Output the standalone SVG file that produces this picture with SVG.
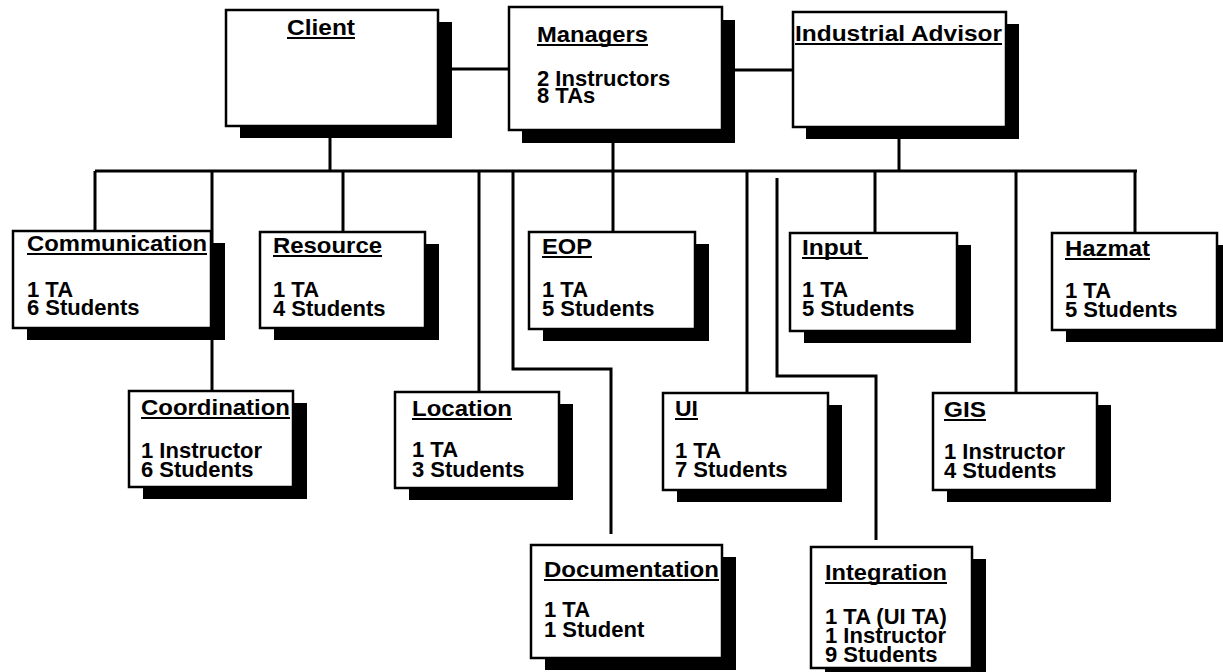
<svg xmlns="http://www.w3.org/2000/svg" width="1223" height="672" viewBox="0 0 1223 672">
<style>
.bg{fill:#fff}
.sh{fill:#000}
.bx{fill:#fff;stroke:#000;stroke-width:2.5}
.ln{fill:none;stroke:#000;stroke-width:3}
.ul{stroke:#000;stroke-width:2}
text{font-family:"Liberation Sans",Arial,Helvetica,sans-serif;font-weight:bold;font-size:22px;fill:#000}
</style>
<rect class="bg" x="0" y="0" width="1223" height="672"/>
<g id="connectors">
<line class="ln" x1="452" y1="69" x2="509" y2="69"/>
<line class="ln" x1="735" y1="70" x2="793" y2="70"/>
<line class="ln" x1="330" y1="137" x2="330" y2="171"/>
<line class="ln" x1="613" y1="143" x2="613" y2="232"/>
<line class="ln" x1="899" y1="139" x2="899" y2="171"/>
<line class="ln" x1="95" y1="171" x2="1137" y2="171"/>
<polyline class="ln" points="95,171 95,231"/>
<line class="ln" x1="212" y1="171" x2="212" y2="391"/>
<line class="ln" x1="343" y1="171" x2="343" y2="232"/>
<line class="ln" x1="479" y1="171" x2="479" y2="392"/>
<polyline class="ln" points="513,171 513,369 611,369 611,534"/>
<line class="ln" x1="747" y1="171" x2="747" y2="393"/>
<polyline class="ln" points="777,178 777,376 876,376 876,540"/>
<line class="ln" x1="875" y1="171" x2="875" y2="233"/>
<line class="ln" x1="1016" y1="171" x2="1016" y2="393"/>
<line class="ln" x1="1135" y1="171" x2="1135" y2="233"/>
</g>
<g id="client">
<rect class="sh" x="240" y="22" width="212" height="116"/>
<rect class="bx" x="226" y="10" width="212" height="116"/>
<text x="287" y="35" textLength="68" lengthAdjust="spacingAndGlyphs">Client</text>
<line class="ul" x1="287" y1="38" x2="355" y2="38"/>
</g>
<g id="managers">
<rect class="sh" x="522" y="20" width="213" height="123"/>
<rect class="bx" x="509" y="7" width="213" height="123"/>
<text x="537" y="42" textLength="111" lengthAdjust="spacingAndGlyphs">Managers</text>
<line class="ul" x1="537" y1="45" x2="648" y2="45"/>
<text x="537" y="86">2 Instructors</text>
<text x="537" y="103">8 TAs</text>
</g>
<g id="industrial-advisor">
<rect class="sh" x="806" y="24" width="213" height="115"/>
<rect class="bx" x="793" y="12" width="213" height="115"/>
<text x="795" y="41" textLength="207" lengthAdjust="spacingAndGlyphs">Industrial Advisor</text>
<line class="ul" x1="795" y1="44" x2="1002" y2="44"/>
</g>
<g id="communication">
<rect class="sh" x="27" y="243" width="198" height="97"/>
<rect class="bx" x="13" y="231" width="198" height="97"/>
<text x="27" y="251" textLength="180" lengthAdjust="spacingAndGlyphs">Communication</text>
<line class="ul" x1="27" y1="254" x2="207" y2="254"/>
<text x="27" y="297">1 TA</text>
<text x="27" y="315">6 Students</text>
</g>
<g id="resource">
<rect class="sh" x="274" y="244" width="165" height="96"/>
<rect class="bx" x="260" y="232" width="165" height="96"/>
<text x="273" y="253" textLength="109" lengthAdjust="spacingAndGlyphs">Resource</text>
<line class="ul" x1="273" y1="256" x2="382" y2="256"/>
<text x="273" y="297">1 TA</text>
<text x="273" y="316">4 Students</text>
</g>
<g id="eop">
<rect class="sh" x="543" y="244" width="166" height="97"/>
<rect class="bx" x="529" y="232" width="166" height="97"/>
<text x="542" y="254" textLength="50" lengthAdjust="spacingAndGlyphs">EOP</text>
<line class="ul" x1="542" y1="257" x2="592" y2="257"/>
<text x="542" y="297">1 TA</text>
<text x="542" y="316">5 Students</text>
</g>
<g id="input">
<rect class="sh" x="804" y="245" width="167" height="98"/>
<rect class="bx" x="790" y="233" width="167" height="98"/>
<text x="802" y="255" textLength="60" lengthAdjust="spacingAndGlyphs">Input</text>
<line class="ul" x1="802" y1="258" x2="868" y2="258"/>
<text x="802" y="297">1 TA</text>
<text x="802" y="316">5 Students</text>
</g>
<g id="hazmat">
<rect class="sh" x="1066" y="245" width="165" height="97"/>
<rect class="bx" x="1052" y="233" width="165" height="97"/>
<text x="1065" y="256" textLength="85" lengthAdjust="spacingAndGlyphs">Hazmat</text>
<line class="ul" x1="1065" y1="259" x2="1150" y2="259"/>
<text x="1065" y="298">1 TA</text>
<text x="1065" y="317">5 Students</text>
</g>
<g id="coordination">
<rect class="sh" x="143" y="403" width="164" height="96"/>
<rect class="bx" x="129" y="391" width="164" height="96"/>
<text x="141" y="415" textLength="149" lengthAdjust="spacingAndGlyphs">Coordination</text>
<line class="ul" x1="141" y1="418" x2="290" y2="418"/>
<text x="141" y="458">1 Instructor</text>
<text x="141" y="477">6 Students</text>
</g>
<g id="location">
<rect class="sh" x="409" y="404" width="164" height="96"/>
<rect class="bx" x="395" y="392" width="164" height="96"/>
<text x="412" y="416" textLength="100" lengthAdjust="spacingAndGlyphs">Location</text>
<line class="ul" x1="412" y1="419" x2="512" y2="419"/>
<text x="412" y="457">1 TA</text>
<text x="412" y="477">3 Students</text>
</g>
<g id="ui">
<rect class="sh" x="677" y="405" width="165" height="97"/>
<rect class="bx" x="663" y="393" width="165" height="97"/>
<text x="675" y="416" textLength="23" lengthAdjust="spacingAndGlyphs">UI</text>
<line class="ul" x1="675" y1="419" x2="698" y2="419"/>
<text x="675" y="458">1 TA</text>
<text x="675" y="477">7 Students</text>
</g>
<g id="gis">
<rect class="sh" x="947" y="405" width="164" height="97"/>
<rect class="bx" x="933" y="393" width="164" height="97"/>
<text x="944" y="417" textLength="42" lengthAdjust="spacingAndGlyphs">GIS</text>
<line class="ul" x1="944" y1="420" x2="986" y2="420"/>
<text x="944" y="459">1 Instructor</text>
<text x="944" y="478">4 Students</text>
</g>
<g id="documentation">
<rect class="sh" x="545" y="557" width="191" height="113"/>
<rect class="bx" x="531" y="545" width="191" height="113"/>
<text x="544" y="577" textLength="175" lengthAdjust="spacingAndGlyphs">Documentation</text>
<line class="ul" x1="544" y1="580" x2="719" y2="580"/>
<text x="544" y="617">1 TA</text>
<text x="544" y="637">1 Student</text>
</g>
<g id="integration">
<rect class="sh" x="825" y="559" width="161" height="121"/>
<rect class="bx" x="811" y="547" width="161" height="121"/>
<text x="825" y="580" textLength="122" lengthAdjust="spacingAndGlyphs">Integration</text>
<line class="ul" x1="825" y1="583" x2="947" y2="583"/>
<text x="825" y="624">1 TA (UI TA)</text>
<text x="825" y="643">1 Instructor</text>
<text x="825" y="662">9 Students</text>
</g>
</svg>
